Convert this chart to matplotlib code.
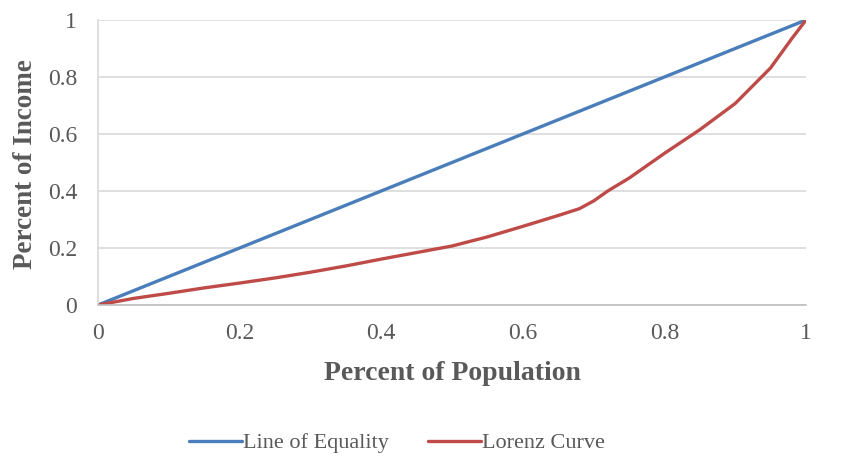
import matplotlib
matplotlib.use("Agg")
import matplotlib.pyplot as plt

pop_equal = [0, 1]
inc_equal = [0, 1]

pop_lorenz = [0, 0.05, 0.1, 0.15, 0.2, 0.25, 0.3, 0.35, 0.4, 0.45, 0.5, 0.55, 0.6, 0.65,
              0.68, 0.7, 0.72, 0.75, 0.8, 0.85, 0.9, 0.95, 0.98, 1.0]
inc_lorenz = [0, 0.023, 0.041, 0.06, 0.077, 0.095, 0.115, 0.137, 0.161, 0.184, 0.207, 0.239, 0.276, 0.314,
              0.338, 0.365, 0.40, 0.445, 0.532, 0.615, 0.707, 0.832, 0.935, 1.0]

xticks = [0, 0.2, 0.4, 0.6, 0.8, 1]
xtick_labels = ["0", "0.2", "0.4", "0.6", "0.8", "1"]
yticks = [0, 0.2, 0.4, 0.6, 0.8, 1]
ytick_labels = ["0", "0.2", "0.4", "0.6", "0.8", "1"]

plt.rcParams['font.family'] = ['Liberation Serif', 'DejaVu Serif']

fig = plt.figure(figsize=(8.49, 4.59), dpi=100)
ax = fig.add_axes([98/849, 1 - 305/459, (806-98)/849, (305-20)/459])

ax.plot(pop_equal, inc_equal, color="#4A7EBB", lw=2.4, label="Line of Equality",
        solid_capstyle="round", solid_joinstyle="round")
ax.plot(pop_lorenz, inc_lorenz, color="#BE4B48", lw=2.4, label="Lorenz Curve",
        solid_capstyle="round", solid_joinstyle="round")

ax.set_xlim(0, 1)
ax.set_ylim(0, 1)
ax.set_xticks(xticks)
ax.set_xticklabels(xtick_labels)
ax.set_yticks(yticks)
ax.set_yticklabels(ytick_labels)
ax.tick_params(length=0, labelsize=17, labelcolor="#595959")
ax.tick_params(axis="x", pad=13)
ax.tick_params(axis="y", pad=15)
ax.grid(axis="y", color="#D9D9D9", lw=1.2)
ax.set_axisbelow(True)
for s in ["top", "right"]:
    ax.spines[s].set_visible(False)
ax.spines["left"].set_color("#D9D9D9")
ax.spines["bottom"].set_color("#BFBFBF")
ax.spines["left"].set_linewidth(1.2)
ax.spines["bottom"].set_linewidth(1.2)

ax.set_xlabel("Percent of Population", fontsize=20, fontweight="bold", color="#595959")
ax.xaxis.set_label_coords(0.5, -(373 - 305) / 285, transform=ax.transAxes)
ax.xaxis.label.set_va("center")
ax.set_ylabel("Percent of Income", fontsize=19.5, fontweight="bold", color="#595959")
ax.yaxis.set_label_coords(-(98 - 26) / 708, (305 - 164) / 285, transform=ax.transAxes)
ax.yaxis.label.set_va("center")

leg = fig.legend(loc="center", bbox_to_anchor=(397/849, 1 - 443/459), ncol=2, frameon=False,
                 fontsize=16, handlelength=2.4, handletextpad=0.05, columnspacing=1.75)
for t in leg.get_texts():
    t.set_color("#595959")

fig.savefig("out.png", dpi=100, facecolor="white")
